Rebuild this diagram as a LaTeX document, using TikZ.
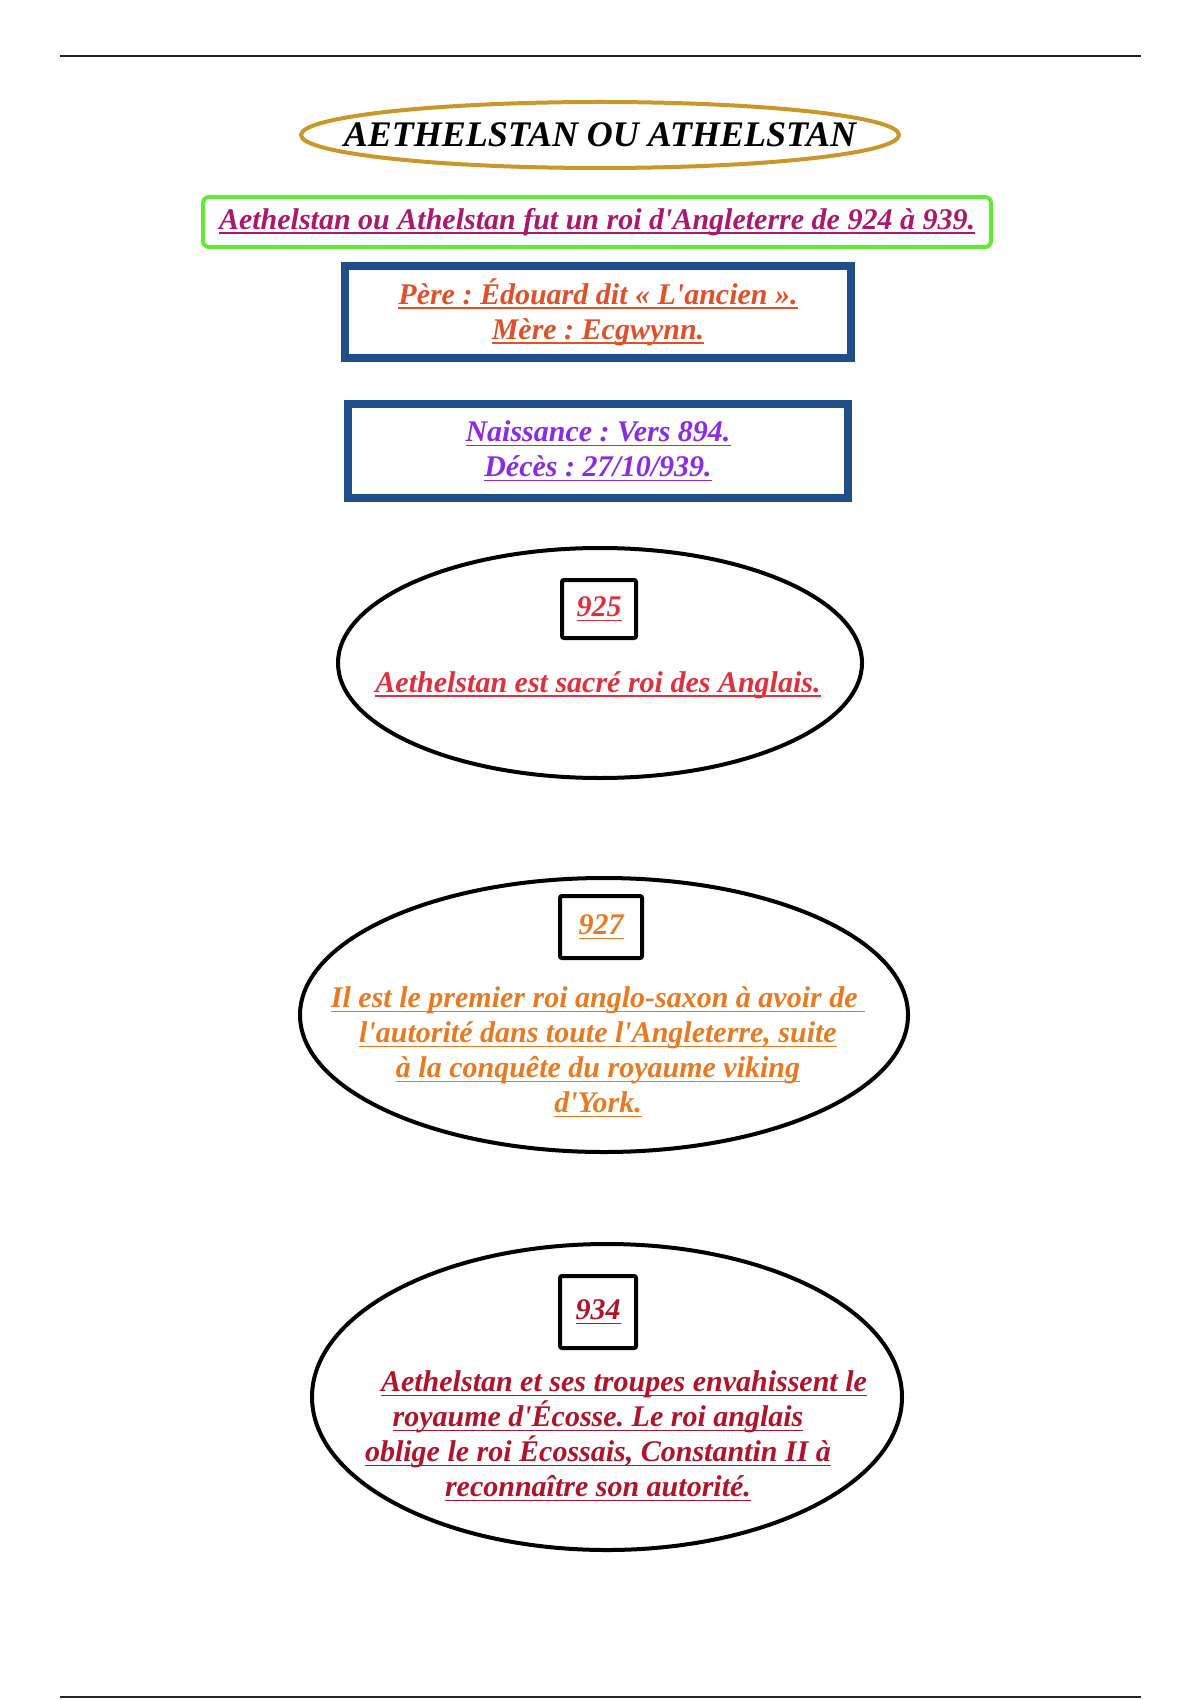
\documentclass[tikz,border=0pt]{standalone}
\usepackage{fontspec}
\setmainfont{Liberation Serif}[Ligatures=TeXOff]
\usepackage{tikz}
\usetikzlibrary{shapes.geometric}
\frenchspacing

\definecolor{titregold}{RGB}{201,152,43}
\definecolor{cadrevert}{RGB}{102,232,56}
\definecolor{cadrebleu}{RGB}{31,78,137}
\definecolor{texterose}{RGB}{170,25,110}
\definecolor{texteorange}{RGB}{224,80,42}
\definecolor{textemauve}{RGB}{139,43,226}
\definecolor{texterouge}{RGB}{224,48,63}
\definecolor{texteambre}{RGB}{232,122,34}
\definecolor{textebordeaux}{RGB}{176,20,44}

\newcommand{\txt}{\fontsize{15pt}{17.5pt}\selectfont\bfseries\itshape}
\newcommand{\souligne}[1]{\setbox2\hbox{#1}\rlap{#1}\rule[-2.3pt]{\wd2}{0.8pt}}

\tikzset{
	bleubox/.style={draw=cadrebleu, line width=4pt, minimum width=255pt, minimum height=48pt, align=center, font=\txt},
	evenement/.style={draw=black, line width=2pt, ellipse},
	annee/.style={draw=black, line width=2pt, rounded corners=1pt, minimum width=37pt, minimum height=29pt, font=\txt}
}

\begin{document}
\begin{tikzpicture}[x=0.5pt, y=-0.5pt]
				\useasboundingbox[fill=white] (0,0) rectangle (1200,1700);
				\draw[line width=1pt, black!85] (60,56) -- (1141,56);
				\draw[line width=1pt, black!85] (60,1697) -- (1141,1697);

				\node[draw=titregold, line width=2pt, ellipse, minimum width=299pt, minimum height=33pt] (cadretitre) at (600,135) {};
				\node[font=\fontsize{18pt}{20pt}\selectfont\bfseries\itshape] (titre) at (600,135) {AETHELSTAN OU ATHELSTAN};
				\node[draw=cadrevert, line width=2pt, rounded corners=3pt, minimum width=394pt, minimum height=25pt, inner sep=0pt, text=texterose, font=\txt] (roi) at (597,222) {\souligne{Aethelstan ou Athelstan fut un roi d'Angleterre de 924 à 939.}};

				\node[bleubox, minimum width=253pt, minimum height=46pt, text=texteorange] (parents) at (598,312) {\souligne{Père : Édouard dit « L'ancien ».}\\\souligne{Mère : Ecgwynn.}};
				\node[bleubox, minimum width=250pt, minimum height=47pt, text=textemauve] (dates) at (598,451) {\souligne{Naissance : Vers 894.}\\\souligne{Décès : 27/10/939.}};

				% 925
				\node[evenement, minimum width=262pt, minimum height=115pt] (e925) at (600,663) {};
				\node[annee, text=texterouge] (a925) at (599,609) {\souligne{925}};
				\node[text=texterouge, font=\txt] (t925) at (598,685) {\souligne{Aethelstan est sacré roi des Anglais.}};

				% 927
				\node[evenement, minimum width=304pt, minimum height=137pt] (e927) at (604,1015) {};
				\node[annee, minimum width=41pt, minimum height=31pt, text=texteambre] (a927) at (601,927) {\souligne{927}};
				\node[align=center, text=texteambre, font=\txt] (t927) at (598,1052) {\souligne{Il est le premier roi anglo-saxon à avoir de }\\\souligne{l'autorité dans toute l'Angleterre, suite}\\\souligne{à la conquête du royaume viking}\\\souligne{d'York.}};

				% 934
				\node[evenement, minimum width=295pt, minimum height=153pt] (e934) at (607,1397) {};
				\node[annee, minimum width=38pt, minimum height=36pt, text=textebordeaux] (a934) at (598,1312) {\souligne{934}};
				\node[align=center, text=textebordeaux, font=\txt] (t934) at (598,1436) {\hspace*{26pt}\souligne{Aethelstan et ses troupes envahissent le}\\\souligne{royaume d'Écosse. Le roi anglais}\\\souligne{oblige le roi Écossais, Constantin II à}\\\souligne{reconnaître son autorité.}};
			\end{tikzpicture}
\end{document}
